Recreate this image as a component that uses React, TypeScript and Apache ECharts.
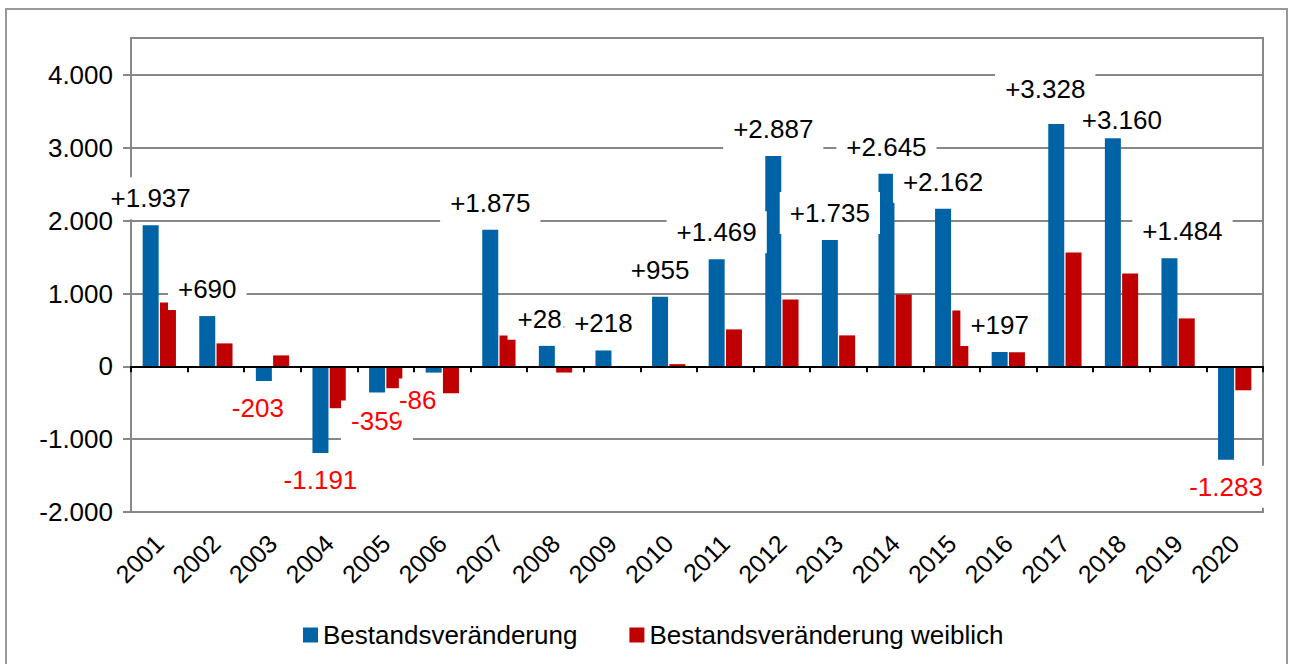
import React, { useEffect, useRef } from "react";
import * as echarts from "echarts";

const years = ["2001","2002","2003","2004","2005","2006","2007","2008","2009","2010","2011","2012","2013","2014","2015","2016","2017","2018","2019","2020"];
const total = [1937, 690, -203, -1191, -359, -86, 1875, 281, 218, 955, 1469, 2887, 1735, 2645, 2162, 197, 3328, 3160, 1484, -1283];
const female = [877, 315, 150, -575, -300, -370, 425, -85, 5, 30, 507, 918, 425, 986, 767, 192, 1562, 1274, 658, -329];
const yTicks = [-2000, -1000, 0, 1000, 2000, 3000, 4000];

const seriesNames = ["Bestandsveränderung", "Bestandsveränderung weiblich"];

const FONT = "'Liberation Sans', Arial, sans-serif";

function fmt(v: number): string {
  const s = Math.abs(v).toString().replace(/\B(?=(\d{3})+(?!\d))/g, ".");
  return v < 0 ? "-" + s : s;
}

export default function App() {
  const ref = useRef<HTMLDivElement>(null);
  useEffect(() => {
    if (!ref.current) return;
    const chart = echarts.init(ref.current, null, { renderer: "svg" });
    const shift: Record<string, [number, number]> = {
      "2003": [-6, 0],
      "2005": [0, 2],
      "2006": [-14, 0],
      "2017": [-11, -8],
      "2018": [9, 8],
      "2019": [13, 0],
    };
    const pad: Record<string, number[]> = {
      "2006": [8, 4, 8, 0],
      "2018": [5, 10],
    };
    const totalData = total.map((v, i) => ({
      value: v,
      label: {
        color: v < 0 ? "#FF0000" : "#000000",
        position: v < 0 ? "bottom" : "top",
        offset: shift[years[i]] || [0, 0],
        padding: pad[years[i]] || [8, 10],
      },
    }));
    const yBase = {
      type: "value",
      min: yTicks[0],
      max: yTicks[yTicks.length - 1],
      interval: 1000,
      position: "left",
    };
    chart.setOption({
      animation: false,
      backgroundColor: "#ffffff",
      grid: { left: 131, right: 27, top: 75, bottom: 152, containLabel: false },
      legend: {
        left: 298,
        top: 617,
        itemWidth: 15,
        itemHeight: 15,
        itemGap: 52,
        icon: "rect",
        textStyle: { fontFamily: FONT, fontSize: 26, color: "#000" },
        data: seriesNames,
      },
      xAxis: [
        {
          type: "category",
          data: years,
          position: "bottom",
          axisLine: { onZero: true, lineStyle: { color: "#000", width: 2 } },
          axisTick: { show: true, length: 6, lineStyle: { color: "#000", width: 2 } },
          axisLabel: { show: false },
          splitLine: { show: false },
          z: 3,
        },
        {
          type: "category",
          data: years,
          position: "bottom",
          axisLine: { show: false, onZero: false },
          axisTick: { show: false },
          axisLabel: {
            show: true,
            interval: 0,
            rotate: 45,
            margin: 27,
            fontFamily: FONT,
            fontSize: 25,
            color: "#000",
          },
        },
      ],
      yAxis: [
        {
          ...yBase,
          axisLine: { show: true, lineStyle: { color: "#888", width: 2 } },
          axisTick: { show: true, inside: false, length: 8, lineStyle: { color: "#888", width: 2 } },
          axisLabel: { show: false },
          splitLine: { show: true, lineStyle: { color: "#888", width: 2 } },
        },
        {
          ...yBase,
          z: 20,
          axisLine: { show: false },
          axisTick: { show: false },
          splitLine: { show: false },
          axisLabel: {
            margin: 18,
            fontFamily: FONT,
            fontSize: 26,
            color: "#000",
            formatter: (v: number) => fmt(v),
          },
        },
      ],
      graphic: [
        {
          type: "rect",
          shape: { x: 6, y: 9, width: 1281, height: 700 },
          style: { fill: "none", stroke: "#999", lineWidth: 2 },
          silent: true,
        },
        {
          type: "rect",
          shape: { x: 131, y: 38, width: 1132, height: 474 },
          style: { fill: "none", stroke: "#888", lineWidth: 2 },
          silent: true,
          z: -1,
        },
      ],
      series: [
        {
          name: seriesNames[0],
          type: "bar",
          xAxisIndex: 0,
          yAxisIndex: 0,
          data: totalData,
          barWidth: 16,
          barGap: "8%",
          itemStyle: { color: "#0063A6" },
          label: {
            show: true,
            distance: 6,
            fontFamily: FONT,
            fontSize: 26,
            backgroundColor: "#ffffff",
            formatter: (p: any) => (p.value > 0 ? "+" : "") + fmt(p.value),
          },
          z: 2,
        },
        {
          name: seriesNames[1],
          type: "bar",
          xAxisIndex: 0,
          yAxisIndex: 0,
          data: female,
          barWidth: 16,
          barGap: "8%",
          itemStyle: { color: "#C00000" },
          z: 2,
        },
      ],
    });
    return () => chart.dispose();
  }, []);
  return (
    <div
      ref={ref}
      style={{ position: "fixed", left: 0, top: 0, width: 1290, height: 664 }}
    />
  );
}
